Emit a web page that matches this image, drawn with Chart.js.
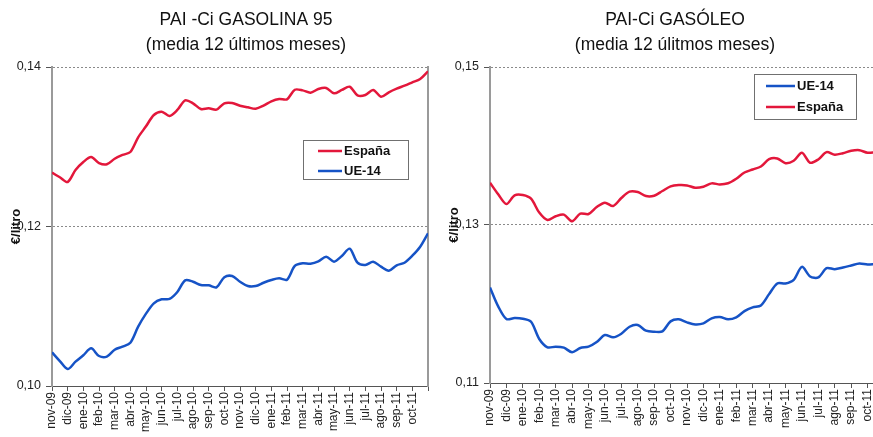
<!DOCTYPE html>
<html lang="es">
<head>
<meta charset="utf-8">
<title>PAI-Ci Gasolina 95 y Gasóleo</title>
<script src="https://cdn.jsdelivr.net/npm/chart.js@4.4.1/dist/chart.umd.min.js"></script>
<style>
    html, body { margin: 0; padding: 0; background: #fff; }
    body { width: 873px; height: 437px; overflow: hidden; position: relative; }
    .grafico { position: absolute; top: 0; height: 437px; }
    #grafGasolina { left: 0; width: 492px; }
    #grafGasoleo { left: 436px; width: 478px; }
</style>
</head>
<body>
<div class="grafico" id="grafGasolina"><canvas id="canvasGasolina"></canvas></div>
<div class="grafico" id="grafGasoleo"><canvas id="canvasGasoleo"></canvas></div>
<script>
// ============================================================================
// PAI-Ci GASOLINA 95 / GASÓLEO - media móvil 12 meses (€/litro)
// ============================================================================

const meses = ["nov-09", "dic-09", "ene-10", "feb-10", "mar-10", "abr-10", "may-10", "jun-10",
    "jul-10", "ago-10", "sep-10", "oct-10", "nov-10", "dic-10", "ene-11", "feb-11",
    "mar-11", "abr-11", "may-11", "jun-11", "jul-11", "ago-11", "sep-11", "oct-11"];

// dos observaciones por mes (quincenales)
const PASO_MES = 0.5;

const gasolinaEspana = [0.12675, 0.12617, 0.12558, 0.12708, 0.12809, 0.12871, 0.12796, 0.12780, 0.12850, 0.12897,
    0.12934, 0.13118, 0.13256, 0.13398, 0.13440, 0.13386, 0.13461, 0.13582, 0.13545, 0.13473,
    0.13482, 0.13465, 0.13545, 0.13549, 0.13515, 0.13495, 0.13477, 0.13515, 0.13570, 0.13599,
    0.13595, 0.13715, 0.13707, 0.13678, 0.13724, 0.13737, 0.13670, 0.13712, 0.13753, 0.13645,
    0.13649, 0.13712, 0.13628, 0.13683, 0.13728, 0.13766, 0.13808, 0.13850, 0.13946];

const gasolinaUE14 = [0.10422, 0.10313, 0.10213, 0.10305, 0.10385, 0.10472, 0.10376, 0.10368, 0.10455, 0.10493,
    0.10543, 0.10744, 0.10907, 0.11037, 0.11087, 0.11091, 0.11179, 0.11325, 0.11308, 0.11266,
    0.11262, 0.11238, 0.11363, 0.11379, 0.11308, 0.11254, 0.11254, 0.11295, 0.11329, 0.11350,
    0.11333, 0.11505, 0.11538, 0.11534, 0.11563, 0.11622, 0.11559, 0.11630, 0.11722, 0.11546,
    0.11517, 0.11559, 0.11496, 0.11446, 0.11513, 0.11546, 0.11634, 0.11747, 0.11915];

const gasoleoEspana = [0.13535, 0.13388, 0.13265, 0.13375, 0.13379, 0.13333, 0.13157, 0.13063, 0.13110, 0.13131,
    0.13047, 0.13144, 0.13139, 0.13227, 0.13283, 0.13240, 0.13341, 0.13422, 0.13417, 0.13366,
    0.13371, 0.13430, 0.13489, 0.13505, 0.13501, 0.13472, 0.13485, 0.13527, 0.13514, 0.13528,
    0.13586, 0.13665, 0.13703, 0.13741, 0.13833, 0.13842, 0.13783, 0.13813, 0.13914, 0.13788,
    0.13830, 0.13922, 0.13889, 0.13909, 0.13939, 0.13947, 0.13914, 0.13920, 0.13920];

const gasoleoUE14 = [0.12210, 0.11970, 0.11810, 0.11822, 0.11813, 0.11775, 0.11557, 0.11452, 0.11460, 0.11447,
    0.11389, 0.11443, 0.11460, 0.11519, 0.11607, 0.11578, 0.11624, 0.11712, 0.11734, 0.11662,
    0.11649, 0.11653, 0.11780, 0.11806, 0.11768, 0.11742, 0.11755, 0.11818, 0.11835, 0.11806,
    0.11831, 0.11910, 0.11957, 0.11982, 0.12125, 0.12260, 0.12260, 0.12306, 0.12470, 0.12348,
    0.12336, 0.12453, 0.12441, 0.12462, 0.12487, 0.12513, 0.12500, 0.12505, 0.12505];

const ticksGasolina = [0.10, 0.12, 0.14];
const ticksGasoleo = [0.11, 0.13, 0.15];

const ROJO = "#e3173b";
const AZUL = "#1653c6";
const FUENTE = '"Liberation Sans", Arial, Helvetica, sans-serif';

Chart.defaults.font.family = FUENTE;

function aPuntos(valores) {
    return valores.map((v, i) => ({ x: i * PASO_MES, y: v }));
}

function serie(label, valores, color) {
    return {
        label: label,
        data: aPuntos(valores),
        borderColor: color,
        backgroundColor: color,
        borderWidth: 2.5,
        pointRadius: 0,
        tension: 0.3,
        fill: false
    };
}

// Leyenda dibujada dentro del área del gráfico, con recuadro
const leyendaInterna = {
    id: "leyendaInterna",
    afterDraw(chart, args, opts) {
        const { ctx, chartArea } = chart;
        const x0 = Math.round(chartArea.right - opts.derecha - opts.ancho);
        const y0 = Math.round(chartArea.top + opts.arriba);
        ctx.save();
        ctx.fillStyle = "#fff";
        ctx.fillRect(x0, y0, opts.ancho, opts.alto);
        ctx.strokeStyle = "#707070";
        ctx.lineWidth = 1;
        ctx.strokeRect(x0 + 0.5, y0 + 0.5, opts.ancho, opts.alto);
        ctx.font = "bold 13px " + FUENTE;
        ctx.textBaseline = "middle";
        chart.data.datasets.forEach((ds, i) => {
            const y = y0 + opts.primeraFila + i * opts.fila;
            ctx.strokeStyle = ds.borderColor;
            ctx.lineWidth = 2.5;
            ctx.beginPath();
            ctx.moveTo(x0 + opts.lineaX, y);
            ctx.lineTo(x0 + opts.lineaX + opts.lineaLargo, y);
            ctx.stroke();
            ctx.fillStyle = "#111";
            ctx.fillText(ds.label, x0 + opts.lineaX + opts.lineaLargo + 2, y + 0.5);
        });
        ctx.restore();
    }
};

function crearOpciones(cfg) {
    return {
        responsive: true,
        maintainAspectRatio: false,
        animation: false,
        events: [],
        plugins: {
            legend: { display: false },
            tooltip: { enabled: false },
            title: {
                display: true,
                text: cfg.titulo,
                color: "#111",
                font: { size: 17.5, weight: "normal", lineHeight: 1.4 },
                padding: { top: 8, bottom: 10 }
            },
            leyendaInterna: cfg.leyenda
        },
        scales: {
            x: {
                type: "linear",
                min: 0,
                max: meses.length,
                ticks: {
                    stepSize: 1,
                    autoSkip: false,
                    minRotation: 90,
                    maxRotation: 90,
                    padding: 1,
                    color: "#222",
                    font: { size: 12 },
                    callback: (v) => meses[v] ?? ""
                },
                grid: { drawOnChartArea: false, tickLength: 5, color: "#555" },
                border: { color: "#555", width: 1 },
                afterFit: (s) => { s.height = cfg.altoEjeX; }
            },
            y: {
                min: cfg.ticksY[0],
                max: cfg.ticksY[cfg.ticksY.length - 1],
                afterBuildTicks: (s) => { s.ticks = cfg.ticksY.map(v => ({ value: v })); },
                ticks: {
                    color: "#222",
                    padding: 5,
                    font: { size: 12.5 },
                    callback: (v) => v.toFixed(2).replace(".", ",")
                },
                grid: {
                    color: (c) => c.index === 0 ? "rgba(0,0,0,0)" : "#8a8a8a",
                    tickColor: "#555",
                    tickLength: 6,
                    lineWidth: 1
                },
                border: { color: "#9a9a9a", width: 2, dash: [2, 2] },
                title: {
                    display: true,
                    text: "€/litro",
                    color: "#111",
                    font: { size: 13, weight: "bold" },
                    padding: { top: cfg.margenTituloY, bottom: 0 }
                },
                afterFit: (s) => { s.width = cfg.anchoEjeY; }
            },
            y2: {
                position: "right",
                min: cfg.ticksY[0],
                max: cfg.ticksY[cfg.ticksY.length - 1],
                ticks: { display: false },
                grid: { display: false, drawTicks: false },
                border: { display: cfg.bordeDerecho, color: "#9a9a9a", width: 2 },
                afterFit: (s) => { s.width = cfg.anchoDerecho; }
            }
        }
    };
}

function renderGasolina() {
    const ctx = document.getElementById("canvasGasolina").getContext("2d");
    new Chart(ctx, {
        type: "line",
        data: {
            datasets: [
                serie("España", gasolinaEspana, ROJO),
                serie("UE-14", gasolinaUE14, AZUL)
            ]
        },
        options: crearOpciones({
            titulo: ["PAI -Ci GASOLINA 95", "(media 12 últimos meses)"],
            ticksY: ticksGasolina,
            anchoEjeY: 52,
            anchoDerecho: 64,
            bordeDerecho: true,
            altoEjeX: 51,
            margenTituloY: 9,
            leyenda: { derecha: 20, arriba: 73, ancho: 105, alto: 39, primeraFila: 11, fila: 20, lineaX: 15, lineaLargo: 24 }
        }),
        plugins: [leyendaInterna]
    });
}

function renderGasoleo() {
    const ctx = document.getElementById("canvasGasoleo").getContext("2d");
    new Chart(ctx, {
        type: "line",
        data: {
            datasets: [
                serie("UE-14", gasoleoUE14, AZUL),
                serie("España", gasoleoEspana, ROJO)
            ]
        },
        options: crearOpciones({
            titulo: ["PAI-Ci GASÓLEO", "(media 12 úlitmos meses)"],
            ticksY: ticksGasoleo,
            anchoEjeY: 54,
            anchoDerecho: 30,
            bordeDerecho: false,
            altoEjeX: 54,
            margenTituloY: 11,
            leyenda: { derecha: 28, arriba: 7, ancho: 102, alto: 45, primeraFila: 12, fila: 21, lineaX: 12, lineaLargo: 29 }
        }),
        plugins: [leyendaInterna]
    });
}

document.addEventListener("DOMContentLoaded", () => {
    renderGasolina();
    renderGasoleo();
});
</script>
</body>
</html>
